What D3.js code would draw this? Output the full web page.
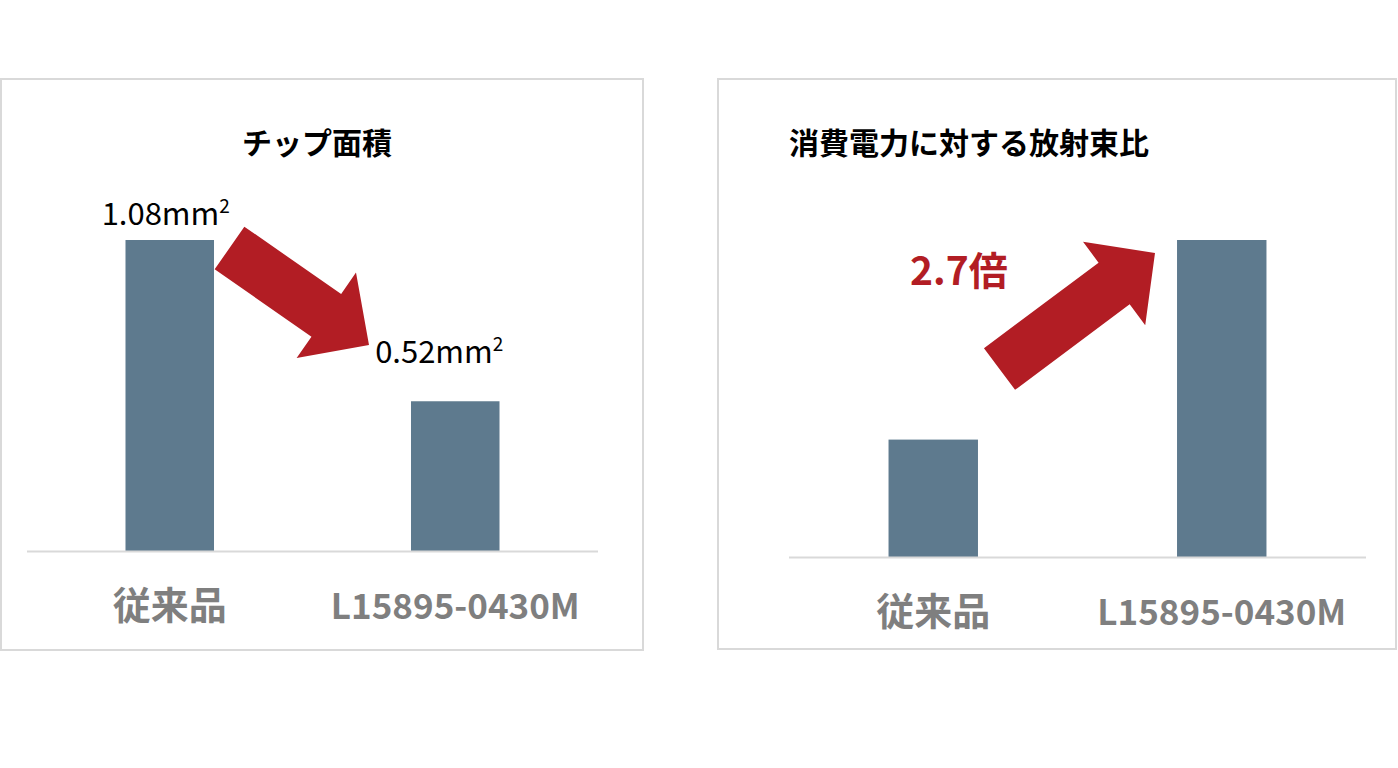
<!DOCTYPE html>
<html>
<head>
<meta charset="utf-8">
<script src="https://cdn.jsdelivr.net/npm/d3@7/dist/d3.min.js"></script>
<style>
  html, body { margin: 0; padding: 0; background: #fff; }
  svg { display: block; }
  text { font-family: "Noto Sans CJK JP", "Noto Sans", sans-serif; }
</style>
</head>
<body>
<svg id="chart" width="1398" height="768"></svg>
<script>
// data
var categories = ["従来品", "L15895-0430M"];
var areaValues = [1.08, 0.52];          // チップ面積 (mm²)
var areaLabels = ["1.08mm", "0.52mm"];  // superscript 2 added below
var ratioValues = [1, 2.7];              // 消費電力に対する放射束比 (relative)
var ratioNote = "2.7倍";
var titles = ["チップ面積", "消費電力に対する放射束比"];

var barColor = "#5e7a8e",
    arrowColor = "#b21d24",
    axisColor = "#d9d9d9",
    catColor = "#7f7f7f";

var svg = d3.select("#chart");

// block arrow from (x1,y1) to tip (x2,y2)
function blockArrow(x1, y1, x2, y2, shaftW, headW, headL) {
    var dx = x2 - x1, dy = y2 - y1, len = Math.sqrt(dx * dx + dy * dy);
    var ux = dx / len, uy = dy / len, px = -uy, py = ux;
    var bx = x2 - ux * headL, by = y2 - uy * headL;
    var pts = [
        [x1 + px * shaftW / 2, y1 + py * shaftW / 2],
        [bx + px * shaftW / 2, by + py * shaftW / 2],
        [bx + px * headW / 2, by + py * headW / 2],
        [x2, y2],
        [bx - px * headW / 2, by - py * headW / 2],
        [bx - px * shaftW / 2, by - py * shaftW / 2],
        [x1 - px * shaftW / 2, y1 - py * shaftW / 2]
    ];
    return pts.map(function (p) { return p.join(","); }).join(" ");
}

function panel(box, base, xRange, yTop, values) {
    var g = svg.append("g");
    g.append("rect")
        .attr("x", box[0]).attr("y", box[1])
        .attr("width", box[2]).attr("height", box[3])
        .attr("fill", "#fff")
        .attr("stroke", axisColor)
        .attr("stroke-width", 2);

    var x = d3.scaleBand()
        .domain(categories)
        .range(xRange)
        .paddingInner(0.69)
        .paddingOuter(0.345);
    var y = d3.scaleLinear()
        .domain([0, d3.max(values)])
        .range([base, yTop]);

    g.selectAll("rect.bar")
        .data(values)
        .enter()
        .append("rect")
        .attr("class", "bar")
        .attr("x", function (d, i) { return x(categories[i]); })
        .attr("y", function (d) { return y(d); })
        .attr("width", x.bandwidth())
        .attr("height", function (d) { return base - y(d); })
        .attr("fill", barColor);

    g.append("line")
        .attr("x1", xRange[0]).attr("x2", xRange[1])
        .attr("y1", base + 0.5).attr("y2", base + 0.5)
        .attr("stroke", axisColor)
        .attr("stroke-width", 2);

    // CJK glyphs look larger in the original font than the latin ones
    g.selectAll("text.cat")
        .data(categories)
        .enter()
        .append("text")
        .attr("class", "cat")
        .attr("x", function (d) { return x(d) + x.bandwidth() / 2; })
        .attr("y", base + 68)
        .attr("text-anchor", "middle")
        .attr("font-size", function (d) { return /[^\x00-\x7f]/.test(d) ? 38 : 35; })
        .attr("font-weight", 700)
        .attr("fill", catColor)
        .text(function (d) { return d; });

    return {g: g, x: x, y: y};
}

// left panel: chip area
var L = panel([1, 79, 642, 571], 551, [27, 598], 240, areaValues);
L.g.append("text")
    .attr("x", 317).attr("y", 154)
    .attr("text-anchor", "middle")
    .attr("font-size", 30)
    .attr("font-weight", 700)
    .attr("fill", "#000")
    .text(titles[0]);

var labelOffset = [[-4, -15], [-16, -38]];
areaLabels.forEach(function (lab, i) {
    var cx = L.x(categories[i]) + L.x.bandwidth() / 2;
    var t = L.g.append("text")
        .attr("x", cx + labelOffset[i][0])
        .attr("y", L.y(areaValues[i]) + labelOffset[i][1])
        .attr("text-anchor", "middle")
        .attr("font-size", 31)
        .attr("fill", "#000");
    t.append("tspan").text(lab);
    t.append("tspan").attr("dy", -12).attr("font-size", 19).text("2");
});

L.g.append("polygon")
    .attr("points", blockArrow(229.5, 248, 369, 345, 52, 104, 52))
    .attr("fill", arrowColor);

// right panel: radiant flux per power
var R = panel([718, 79, 678, 570], 557, [789, 1366], 240, ratioValues);
R.g.append("text")
    .attr("x", 789).attr("y", 154)
    .attr("font-size", 30)
    .attr("font-weight", 700)
    .attr("fill", "#000")
    .text(titles[1]);

R.g.append("polygon")
    .attr("points", blockArrow(999.5, 369, 1155, 253, 52, 104, 51))
    .attr("fill", arrowColor);

R.g.append("text")
    .attr("x", 910).attr("y", 285)
    .attr("font-size", 39)
    .attr("font-weight", 700)
    .attr("fill", arrowColor)
    .text(ratioNote);
</script>
</body>
</html>
